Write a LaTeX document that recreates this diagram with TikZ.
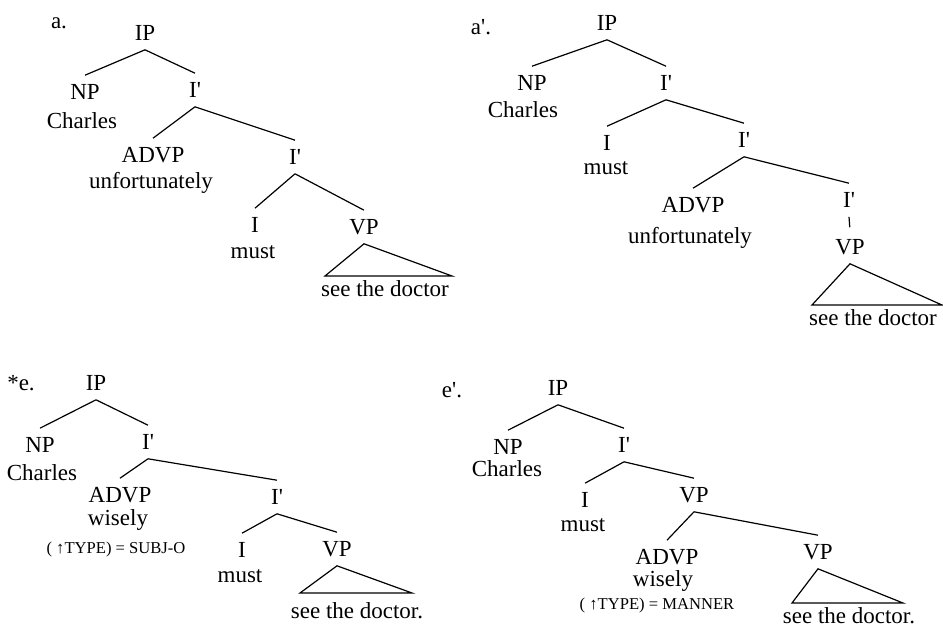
\documentclass[tikz,border=0pt]{standalone}
\usepackage{fontspec}
\setmainfont{Liberation Serif}
\usepackage{tikz}

\newcommand{\ibar}{I\textquotesingle}

\begin{document}
\begin{tikzpicture}[
      x=0.5pt, y=-0.5pt,
      font=\fontsize{11.5}{13}\selectfont,
      cat/.style={inner sep=0pt, text height=7.6pt, text depth=0pt,
                  outer xsep=0pt, outer ysep=4.6pt},
      word/.style={inner sep=0pt},
      note/.style={inner sep=0pt, font=\fontsize{8.3}{10}\selectfont},
      tag/.style={inner sep=0pt},
      branch/.style={line width=0.6pt},
    ]
    \useasboundingbox (0,0) rectangle (943,627);

    % Tree a.
    \node[tag] (tagA) at (59,23) {a.};
    \node[cat] (ipA) at (145,33) {IP};
    \node[cat] (npA) at (85,92) {NP};
    \node[word] (chA) at (82,121) {Charles};
    \node[cat] (ibA1) at (195,90) {\ibar};
    \node[cat] (advpA) at (153,155) {ADVP};
    \node[word] (unA) at (151,183) {unfortunately};
    \node[cat] (ibA2) at (295,157) {\ibar};
    \node[cat] (iA) at (255,225) {I};
    \node[word] (muA) at (253,252) {must};
    \node[cat] (vpA) at (364,227) {VP};
    \coordinate (vpAl) at (325,276);
    \coordinate (vpAr) at (452,276);
    \node[word] (sdA) at (385,289) {see the doctor};

    \draw[branch] (ipA.south) -- (npA.north);
    \draw[branch] (ipA.south) -- (ibA1.north);
    \draw[branch] (ibA1.south) -- (advpA.north);
    \draw[branch] (ibA1.south) -- (ibA2.north);
    \draw[branch] (ibA2.south) -- (iA.north);
    \draw[branch] (ibA2.south) -- (vpA.north);
    \draw[branch] (vpAl) -- (vpA.south) -- (vpAr) -- cycle;

    % Tree a'.
    \node[tag] (tagP) at (481,27) {a\textquotesingle.};
    \node[cat] (ipP) at (607,23) {IP};
    \node[cat] (npP) at (532,83) {NP};
    \node[word] (chP) at (523,110) {Charles};
    \node[cat] (ibP1) at (666,83) {\ibar};
    \node[cat] (iP) at (607,143) {I};
    \node[word] (muP) at (606,168) {must};
    \node[cat] (ibP2) at (744,140) {\ibar};
    \node[cat] (advpP) at (693,205) {ADVP};
    \node[word] (unP) at (690,238) {unfortunately};
    \node[cat] (ibP3) at (849,200) {\ibar};
    \node[cat] (vpP) at (850,247) {VP};
    \coordinate (vpPl) at (812,305);
    \coordinate (vpPr) at (942,305);
    \node[word] (sdP) at (873,318) {see the doctor};

    \draw[branch] (ipP.south) -- (npP.north);
    \draw[branch] (ipP.south) -- (ibP1.north);
    \draw[branch] (ibP1.south) -- (iP.north);
    \draw[branch] (ibP1.south) -- (ibP2.north);
    \draw[branch] (ibP2.south) -- (advpP.north);
    \draw[branch] (ibP2.south) -- (ibP3.north);
    \draw[branch, shorten >=1.5pt] (ibP3.south) -- (vpP.north);
    \draw[branch] (vpPl) -- (vpP.south) -- (vpPr) -- cycle;

    % Tree *e.
    \node[tag] (tagE) at (21,383) {*e.};
    \node[cat] (ipE) at (96,383) {IP};
    \node[cat] (npE) at (40,445) {NP};
    \node[word] (chE) at (42,473) {Charles};
    \node[cat] (ibE1) at (148,442) {\ibar};
    \node[cat] (advpE) at (120,495) {ADVP};
    \node[word] (wiE) at (118,520) {wisely};
    \node[note] (anE) at (116,549) {( \textuparrow TYPE) = SUBJ-O};
    \node[cat] (ibE2) at (277,497) {\ibar};
    \node[cat] (iE) at (242,550) {I};
    \node[word] (muE) at (240,576) {must};
    \node[cat] (vpE) at (337,549) {VP};
    \coordinate (vpEl) at (300,593);
    \coordinate (vpEr) at (412,593);
    \node[word] (sdE) at (357,611) {see the doctor.};

    \draw[branch] (ipE.south) -- (npE.north);
    \draw[branch] (ipE.south) -- (ibE1.north);
    \draw[branch] (ibE1.south) -- (advpE.north);
    \draw[branch] (ibE1.south) -- (ibE2.north);
    \draw[branch] (ibE2.south) -- (iE.north);
    \draw[branch] (ibE2.south) -- (vpE.north);
    \draw[branch] (vpEl) -- (vpE.south) -- (vpEr) -- cycle;

    % Tree e'.
    \node[tag] (tagF) at (452,390) {e\textquotesingle.};
    \node[cat] (ipF) at (558,388) {IP};
    \node[cat] (npF) at (508,447) {NP};
    \node[word] (chF) at (507,469) {Charles};
    \node[cat] (ibF) at (624,445) {\ibar};
    \node[cat] (iF) at (585,500) {I};
    \node[word] (muF) at (583,525) {must};
    \node[cat] (vpF1) at (694,495) {VP};
    \node[cat] (advpF) at (667,557) {ADVP};
    \node[word] (wiF) at (663,581) {wisely};
    \node[note] (anF) at (657,606) {( \textuparrow TYPE) = MANNER};
    \node[cat] (vpF2) at (818,552) {VP};
    \coordinate (vpFl) at (792,603);
    \coordinate (vpFr) at (903,603);
    \node[word] (sdF) at (849,616) {see the doctor.};

    \draw[branch] (ipF.south) -- (npF.north);
    \draw[branch] (ipF.south) -- (ibF.north);
    \draw[branch] (ibF.south) -- (iF.north);
    \draw[branch] (ibF.south) -- (vpF1.north);
    \draw[branch] (vpF1.south) -- (advpF.north);
    \draw[branch] (vpF1.south) -- (vpF2.north);
    \draw[branch] (vpFl) -- (vpF2.south) -- (vpFr) -- cycle;

  \end{tikzpicture}
\end{document}
